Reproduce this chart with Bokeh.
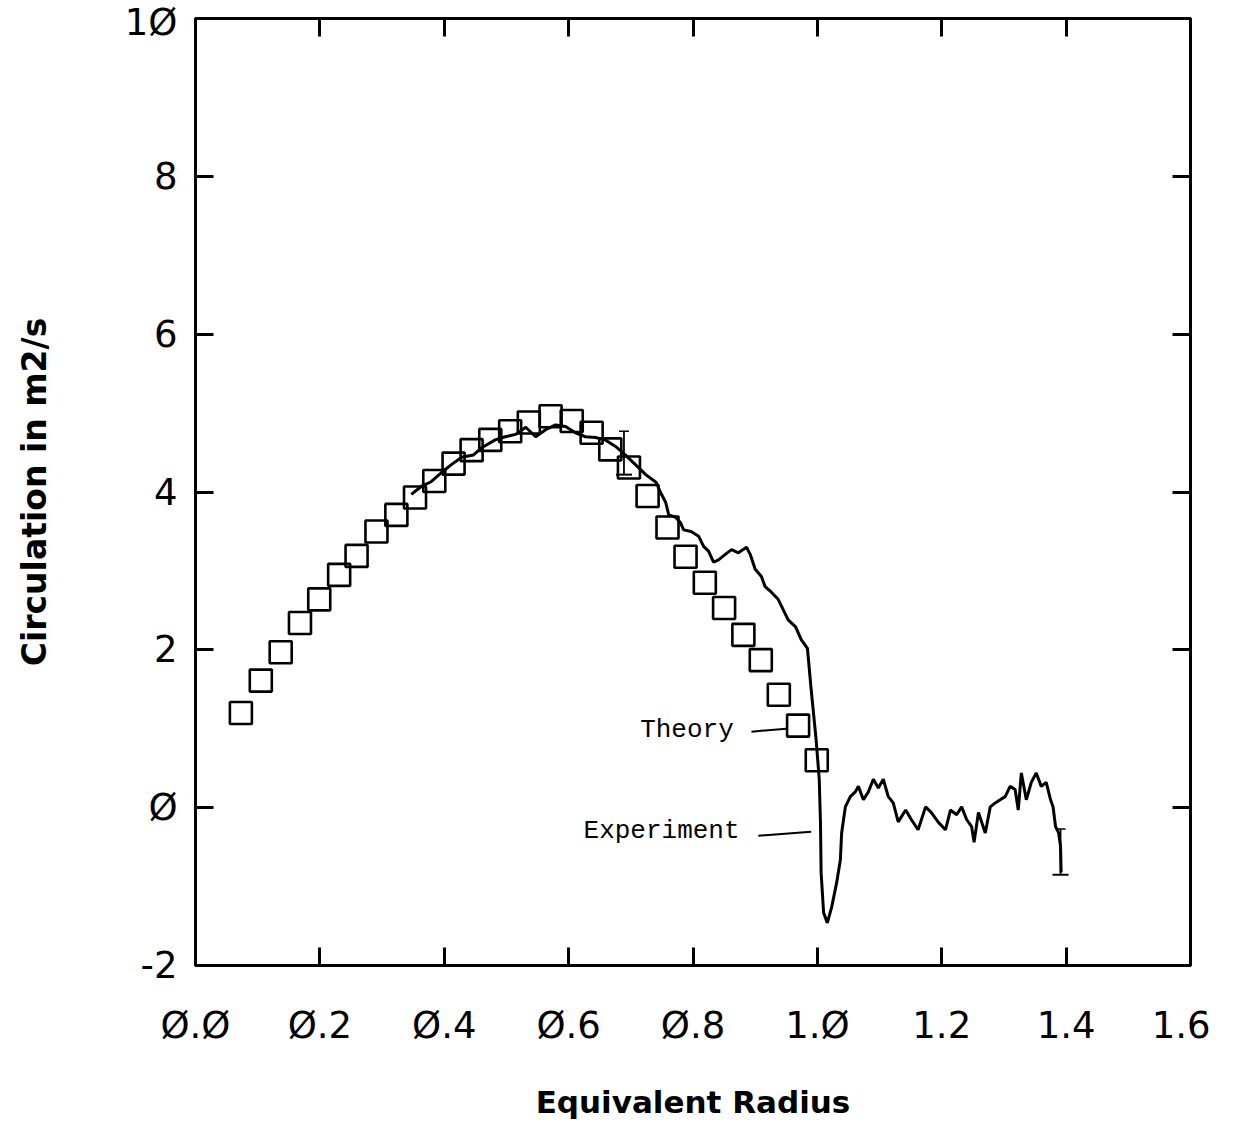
from bokeh.plotting import figure
from bokeh.models import (LinearAxis, FixedTicker, Label, CustomJSTickFormatter)
from bokeh.embed import file_html
from bokeh.resources import INLINE

# ---------------- data ----------------
theory_x = [0.073, 0.105, 0.137, 0.168, 0.199, 0.231, 0.259, 0.291, 0.323, 0.353,
            0.384, 0.415, 0.444, 0.474, 0.506, 0.536, 0.571, 0.605, 0.637, 0.667,
            0.697, 0.727, 0.759, 0.788, 0.819, 0.850, 0.881, 0.909, 0.938, 0.969, 0.999]
theory_y = [1.20, 1.61, 1.97, 2.34, 2.64, 2.95, 3.19, 3.50, 3.71, 3.93,
            4.14, 4.36, 4.53, 4.66, 4.77, 4.88, 4.96, 4.90, 4.75, 4.54,
            4.31, 3.95, 3.55, 3.18, 2.85, 2.53, 2.19, 1.87, 1.43, 1.04, 0.60]

exp_x = [0.347, 0.363, 0.379, 0.396, 0.412, 0.428, 0.447, 0.460, 0.482, 0.498,
         0.515, 0.531, 0.547, 0.563, 0.579, 0.595, 0.611, 0.627, 0.643, 0.659,
         0.675, 0.691, 0.707, 0.724, 0.741, 0.748, 0.756, 0.761, 0.772, 0.780,
         0.785, 0.797, 0.809, 0.817, 0.825, 0.833, 0.841, 0.852, 0.862, 0.873,
         0.886, 0.892, 0.900, 0.910, 0.916, 0.926, 0.937, 0.945, 0.953, 0.965,
         0.974, 0.984, 0.990, 0.998, 1.003, 1.005, 1.006, 1.010, 1.016, 1.023,
         1.031, 1.037, 1.039, 1.045, 1.053, 1.061, 1.066, 1.074, 1.082, 1.090,
         1.098, 1.106, 1.114, 1.122, 1.130, 1.142, 1.151, 1.162, 1.174, 1.183,
         1.195, 1.206, 1.214, 1.224, 1.232, 1.240, 1.248, 1.252, 1.259, 1.270,
         1.278, 1.286, 1.294, 1.302, 1.310, 1.318, 1.323, 1.328, 1.336, 1.344,
         1.352, 1.360, 1.368, 1.375, 1.379, 1.383, 1.388, 1.391, 1.392]
exp_y = [3.97, 4.07, 4.13, 4.25, 4.35, 4.44, 4.47, 4.56, 4.66, 4.70,
         4.73, 4.82, 4.70, 4.79, 4.85, 4.83, 4.75, 4.70, 4.69, 4.66,
         4.58, 4.47, 4.35, 4.22, 4.12, 3.99, 3.87, 3.71, 3.68, 3.61,
         3.52, 3.50, 3.44, 3.31, 3.25, 3.11, 3.14, 3.21, 3.27, 3.23,
         3.30, 3.21, 3.02, 2.93, 2.80, 2.73, 2.64, 2.51, 2.38, 2.29,
         2.13, 2.02, 1.50, 0.86, 0.36, -0.19, -0.82, -1.33, -1.46, -1.26,
         -0.95, -0.66, -0.32, 0.01, 0.14, 0.20, 0.27, 0.10, 0.20, 0.36,
         0.25, 0.36, 0.14, 0.06, -0.18, -0.03, -0.15, -0.28, 0.01, -0.06,
         -0.19, -0.28, -0.03, -0.09, 0.01, -0.15, -0.24, -0.44, -0.06, -0.32,
         0.01, 0.06, 0.10, 0.14, 0.27, 0.23, -0.03, 0.44, 0.10, 0.32,
         0.44, 0.27, 0.32, 0.10, 0.01, -0.24, -0.32, -0.49, -0.82]

err_x = [0.689, 1.391]
err_lo = [4.22, -0.85]
err_hi = [4.77, -0.27]

x_ticks = [0.0, 0.2, 0.4, 0.6, 0.8, 1.0, 1.2, 1.4, 1.6]
x_tick_labels = ["Ø.Ø", "Ø.2", "Ø.4", "Ø.6", "Ø.8", "1.Ø", "1.2", "1.4", "1.6"]
y_ticks = [-2, 0, 2, 4, 6, 8, 10]
y_tick_labels = ["-2", "Ø", "2", "4", "6", "8", "1Ø"]

# annotation positions (data units)
theory_label = (0.715, 0.99)
theory_leader_x = [0.894, 0.950]
theory_leader_y = [0.963, 1.001]
exp_label = (0.624, -0.29)
exp_leader_x = [0.905, 0.990]
exp_leader_y = [-0.355, -0.304]

# ---------------- figure ----------------
p = figure(frame_width=995, frame_height=947,
           x_range=(0, 1.6), y_range=(-2, 10),
           output_backend="svg", toolbar_location=None,
           min_border_left=195, min_border_top=18,
           min_border_right=20, min_border_bottom=120,
           background_fill_color="white", border_fill_color="white")
p.xgrid.visible = False
p.ygrid.visible = False
p.outline_line_color = "black"
p.outline_line_width = 3

FONT = "DejaVu Sans"

def style_axis(ax, ticks, labels=None):
    ax.ticker = FixedTicker(ticks=ticks)
    ax.axis_line_width = 3
    ax.axis_line_color = "black"
    ax.major_tick_in = 18
    ax.major_tick_out = 0
    ax.major_tick_line_width = 3
    ax.major_tick_line_color = "black"
    ax.minor_tick_line_color = None
    if labels is not None:
        ax.major_label_overrides = {t: l for t, l in zip(ticks, labels)}
        ax.major_label_text_font = FONT
        ax.major_label_text_font_size = "37px"
        ax.major_label_text_color = "black"

xa = p.xaxis[0]
style_axis(xa, x_ticks, x_tick_labels)
xa.major_label_standoff = 38
xa.axis_label = "Equivalent Radius"
xa.axis_label_text_font = FONT
xa.axis_label_text_font_size = "31px"
xa.axis_label_text_font_style = "bold"
xa.axis_label_text_color = "black"
xa.axis_label_standoff = 34

ya = p.yaxis[0]
style_axis(ya, y_ticks, y_tick_labels)
ya.major_label_standoff = 18
ya.major_label_orientation = "horizontal"
ya.axis_label = "Circulation in m2/s"
ya.axis_label_text_font = FONT
ya.axis_label_text_font_size = "33px"
ya.axis_label_text_font_style = "bold"
ya.axis_label_text_color = "black"
ya.axis_label_standoff = 68

blank = CustomJSTickFormatter(code="return ''")
top = LinearAxis(formatter=blank)
style_axis(top, x_ticks)
top.major_label_text_font_size = "0px"
top.major_label_standoff = 0
p.add_layout(top, "above")
right = LinearAxis(formatter=blank)
style_axis(right, y_ticks)
right.major_label_text_font_size = "0px"
right.major_label_standoff = 0
p.add_layout(right, "right")

# experiment curve
p.line(exp_x, exp_y, line_color="black", line_width=3)
# theory squares
p.scatter(theory_x, theory_y, marker="square", size=22,
          fill_color=None, line_color="black", line_width=2.6)
# error bars
p.segment(x0=err_x, y0=err_lo, x1=err_x, y1=err_hi, line_color="black", line_width=1.8)
p.scatter(err_x, err_lo, marker="dash", size=16, line_color="black", line_width=2)
p.scatter(err_x, err_hi, marker="dash", size=10, line_color="black", line_width=1.5)

# annotations
p.add_layout(Label(x=theory_label[0], y=theory_label[1], text="Theory",
                   text_font="Liberation Mono", text_font_size="26px",
                   text_baseline="middle", text_align="left", text_color="black"))
p.add_layout(Label(x=exp_label[0], y=exp_label[1], text="Experiment",
                   text_font="Liberation Mono", text_font_size="26px",
                   text_baseline="middle", text_align="left", text_color="black"))
p.line(theory_leader_x, theory_leader_y, line_color="black", line_width=2)
p.line(exp_leader_x, exp_leader_y, line_color="black", line_width=2)

open("out.html", "w").write(file_html(p, INLINE))
